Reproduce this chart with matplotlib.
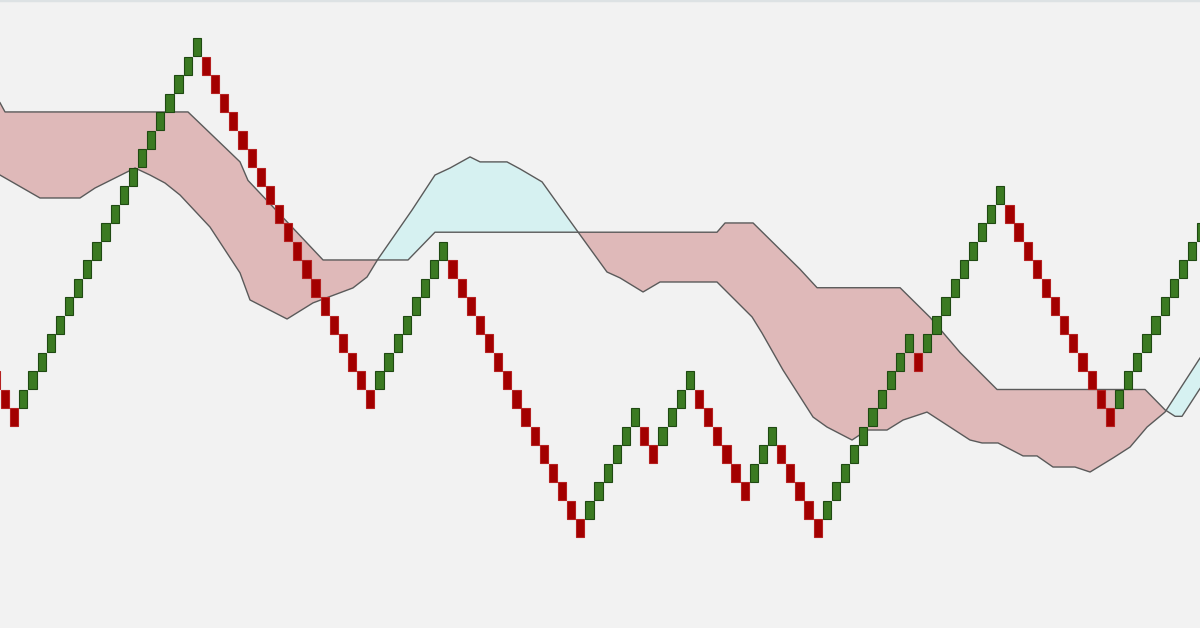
import numpy as np
import matplotlib
matplotlib.use("Agg")
import matplotlib.pyplot as plt
from matplotlib.patches import Rectangle

# ---- Renko data: signed run lengths (+ = up bricks, - = down bricks), brick size = 1 level
runs = [-3, 20, -19, 8, -15, 6, -2, 4, -6, 3, -5, 10, -1, 9, -12, 10]
start_top = 3.0   # top of the first (down) brick, in brick levels

# ---- Ichimoku cloud (in brick index / price level units)
span_b_x = [0.89, 1.44, 21.48, 27.18, 28.05, 36.27, 45.58, 48.53, 79.42, 80.30, 83.37,
            88.51, 90.38, 99.47, 102.75, 106.04, 110.09, 126.30, 128.49, 129.59, 130.35, 132.32]
span_b_y = [17.5, 17.0, 17.0, 14.3, 13.3, 9.0, 9.0, 10.5, 10.5, 11.0, 11.0,
            8.5, 7.5, 7.5, 5.9, 4.0, 2.0, 2.0, 0.9, 0.55, 0.55, 2.05]

span_a_x = [0.89, 2.20, 5.27, 9.65, 11.30, 15.68, 17.32, 18.96, 20.61, 23.89, 27.18, 28.27,
            32.33, 35.17, 39.55, 41.09, 42.29, 46.02, 48.53, 50.18, 52.37, 53.47, 56.42,
            57.85, 60.26, 62.23, 64.20, 67.37, 68.80, 71.32, 73.18, 79.42, 83.26, 84.35,
            86.65, 89.94, 91.47, 94.21, 95.85, 98.04, 99.80, 102.42, 107.13, 108.45,
            110.20, 112.94, 114.47, 116.22, 118.63, 120.28, 122.80, 124.66, 126.52,
            128.49, 132.32]
span_a_y = [13.59, 13.22, 12.35, 12.35, 12.89, 13.97, 13.59, 13.16, 12.51, 10.78, 8.30, 6.84,
            5.81, 6.68, 7.49, 8.08, 9.05, 11.70, 13.59, 13.97, 14.57, 14.30, 14.30,
            13.92, 13.22, 11.86, 10.51, 8.35, 8.03, 7.27, 7.81, 7.81, 5.92, 5.05,
            3.05, 0.51, -0.03, -0.73, -0.19, -0.19, 0.35, 0.78, -0.73, -0.89,
            -0.89, -1.59, -1.59, -2.19, -2.19, -2.46, -1.70, -1.11, -0.03,
            0.78, 3.70]

UP_COLOR = "#3b7a22"
UP_EDGE = "#1f4a12"
DOWN_COLOR = "#a30000"
DOWN_EDGE = "#b52020"
BEAR_FILL = "#dfb9b9"
BULL_FILL = "#d6f1f1"
LINE_COLOR = "#5a5a5a"
BG = "#f2f2f2"

fig = plt.figure(figsize=(12, 6.28), dpi=100)
fig.patch.set_facecolor(BG)
ax = fig.add_axes([0, 0, 1, 1])
ax.set_facecolor(BG)
ax.set_xlim(0.89, 132.32)
ax.set_ylim(-10.89, 23.05)
ax.axis("off")

# ---- cloud
xa = np.array(span_a_x); ya = np.array(span_a_y)
xb = np.array(span_b_x); yb = np.array(span_b_y)
xg = np.union1d(xa, xb)
xg = np.union1d(xg, np.linspace(xg.min(), xg.max(), 2000))
ag = np.interp(xg, xa, ya)
bg = np.interp(xg, xb, yb)
ax.fill_between(xg, ag, bg, where=ag <= bg, interpolate=True, color=BEAR_FILL, lw=0, zorder=1)
ax.fill_between(xg, ag, bg, where=ag > bg, interpolate=True, color=BULL_FILL, lw=0, zorder=1)
ax.plot(xa, ya, color=LINE_COLOR, lw=1.0, zorder=2)
ax.plot(xb, yb, color=LINE_COLOR, lw=1.0, zorder=2)

# ---- renko bricks
lo, hi = start_top, start_top + 1
col = 0
for r in runs:
    n = abs(r)
    for _ in range(n):
        if r > 0:
            lo, hi = hi, hi + 1
            fc, ec = UP_COLOR, UP_EDGE
        else:
            lo, hi = lo - 1, lo
            fc, ec = DOWN_COLOR, DOWN_EDGE
        ax.add_patch(Rectangle((col, lo + 0.02), 0.9, 0.96, facecolor=fc,
                               edgecolor=ec, lw=0.8, zorder=3))
        col += 1

# thin top border
ax.axhline(23.05, color="#dde2e4", lw=2.5, zorder=4)

fig.savefig("out.png", dpi=100, facecolor=BG)
